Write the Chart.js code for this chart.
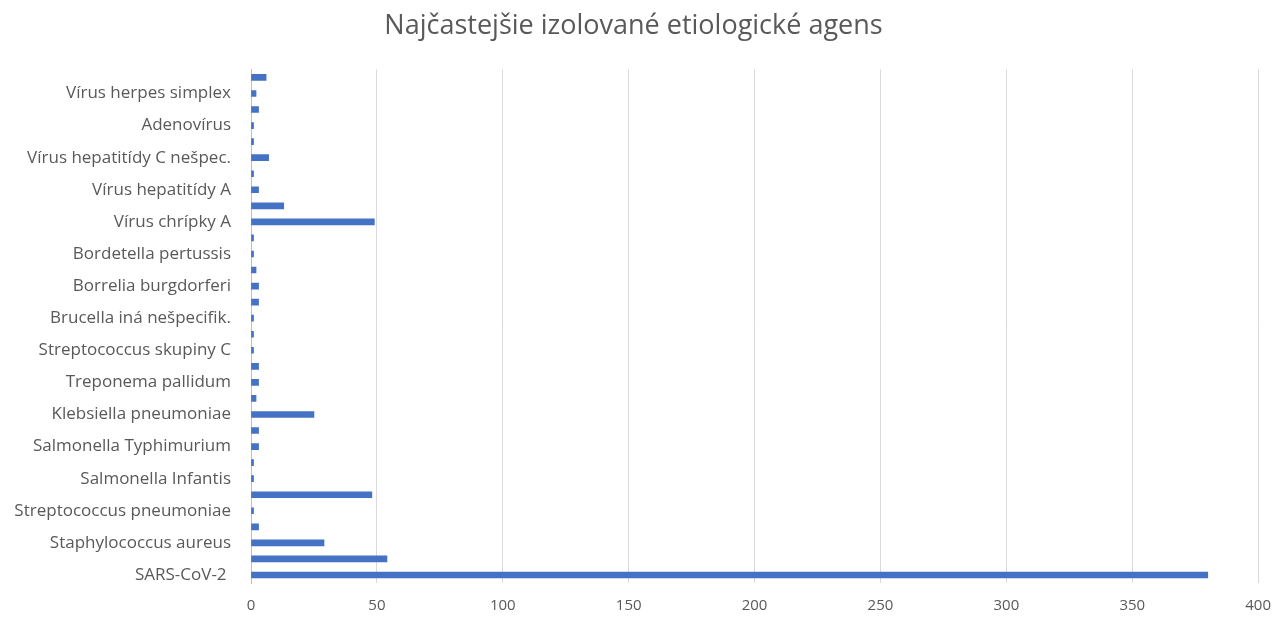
<!DOCTYPE html>
<html>
<head>
<meta charset="utf-8">
<script src="https://cdn.jsdelivr.net/npm/chart.js@4"></script>
<style>
  body { margin: 0; background: #fff; }
  #wrap { width: 1285px; height: 619px; position: relative; }
</style>
</head>
<body>
<div id="wrap"><canvas id="agensChart"></canvas></div>
<script>
// categories top to bottom; unlabeled rows in the original are left blank
const agens = [
  '', 'Vírus herpes simplex', '', 'Adenovírus', '', 'Vírus hepatitídy C nešpec.',
  '', 'Vírus hepatitídy A', '', 'Vírus chrípky A', '', 'Bordetella pertussis',
  '', 'Borrelia burgdorferi', '', 'Brucella iná nešpecifik.', '', 'Streptococcus skupiny C',
  '', 'Treponema pallidum', '', 'Klebsiella pneumoniae', '', 'Salmonella Typhimurium',
  '', 'Salmonella Infantis', '', 'Streptococcus pneumoniae', '', 'Staphylococcus aureus',
  '', 'SARS-CoV-2 '
];
const pocty = [
  6, 2, 3, 1, 1, 7,
  1, 3, 13, 49, 1, 1,
  2, 3, 3, 1, 1, 1,
  3, 3, 2, 25, 3, 3,
  1, 1, 48, 1, 3, 29,
  54, 380
];
const xTicks = [0, 50, 100, 150, 200, 250, 300, 350, 400];

const textColor = '#595959';
const fontFam = '"Open Sans", Lato, sans-serif';

const ctx = document.getElementById('agensChart').getContext('2d');
new Chart(ctx, {
    type: 'bar',
    data: {
        labels: agens,
        datasets: [{
            data: pocty,
            backgroundColor: '#4472C4',
            barThickness: 6
        }]
    },
    options: {
        indexAxis: 'y',
        responsive: true,
        maintainAspectRatio: false,
        animation: false,
        layout: { padding: { left: 0, right: 18, top: 0, bottom: 0 } },
        plugins: {
            legend: { display: false },
            tooltip: { enabled: false },
            title: {
                display: true,
                text: 'Najčastejšie izolované etiologické agens',
                color: textColor,
                font: { family: fontFam, size: 27, weight: 'normal' },
                padding: { top: 10, bottom: 27 }
            }
        },
        scales: {
            x: {
                min: 0,
                max: 400,
                afterBuildTicks: scale => { scale.ticks = xTicks.map(v => ({ value: v })); },
                afterFit: scale => { scale.height = 36; },
                grid: { color: '#d9d9d9', drawTicks: false },
                border: { display: false },
                ticks: {
                    color: textColor,
                    font: { family: fontFam, size: 15 },
                    padding: 14
                }
            },
            y: {
                afterFit: scale => { scale.width = 251; },
                grid: { display: false },
                border: { display: true, color: '#bfbfbf' },
                ticks: {
                    autoSkip: false,
                    color: textColor,
                    font: { family: fontFam, size: 17 },
                    padding: 12
                }
            }
        }
    }
});
</script>
</body>
</html>
